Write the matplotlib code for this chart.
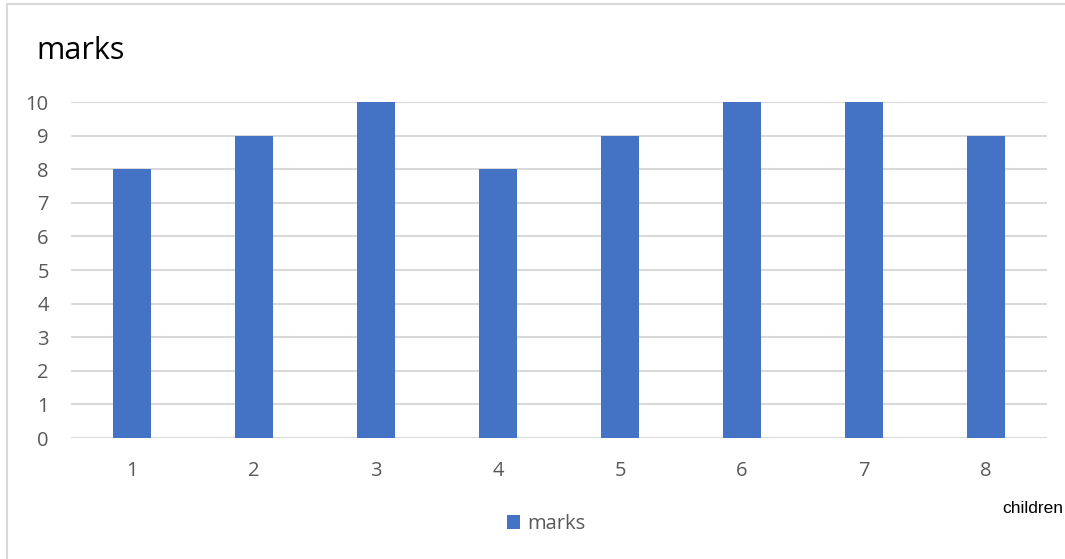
import matplotlib.pyplot as plt
from matplotlib.patches import Rectangle

# marks obtained by each child
children = [1, 2, 3, 4, 5, 6, 7, 8]
marks = [8, 9, 10, 8, 9, 10, 10, 9]

plt.rcParams['font.family'] = ['Open Sans', 'DejaVu Sans']

W, H = 1065, 559
fig = plt.figure(figsize=(W / 100, H / 100), dpi=100)
ax = fig.add_axes([71 / W, 1 - 438 / H, 976 / W, 336 / H])

ax.bar(children, marks, width=0.31, color='#4472C4', zorder=3, label='marks')

ax.set_xlim(0.5, 8.5)
ax.set_ylim(0, 10)
ax.set_xticks(children)
ax.set_yticks(range(0, 11))
ax.grid(axis='y', color='#D9D9D9', linewidth=1.5, zorder=0)
ax.tick_params(length=0, labelsize=14.5, labelcolor='#595959')
ax.tick_params(axis='x', pad=16.5)
ax.tick_params(axis='y', pad=16)
for s in ax.spines.values():
    s.set_visible(False)

# chart title and axis caption
fig.text(36 / W, 1 - 59 / H, 'marks', fontsize=22, color='black', va='baseline', ha='left')
fig.text(1002 / W, 1 - 513 / H, 'children', fontsize=12.5, color='black',
         va='baseline', ha='left', family='Liberation Sans')

# legend under the plot
fig.legend(loc='center', bbox_to_anchor=(546 / W, 1 - 524 / H), frameon=False,
           fontsize=14.5, labelcolor='#595959', handlelength=0.65, handleheight=0.65,
           handletextpad=0.35)

# chart border
fig.add_artist(Rectangle((7 / W, -0.5), 2, 0.5 + 1 - 4 / H, transform=fig.transFigure,
                         fill=False, edgecolor='#D9D9D9', linewidth=1.5))

fig.savefig('out.png', dpi=100)
